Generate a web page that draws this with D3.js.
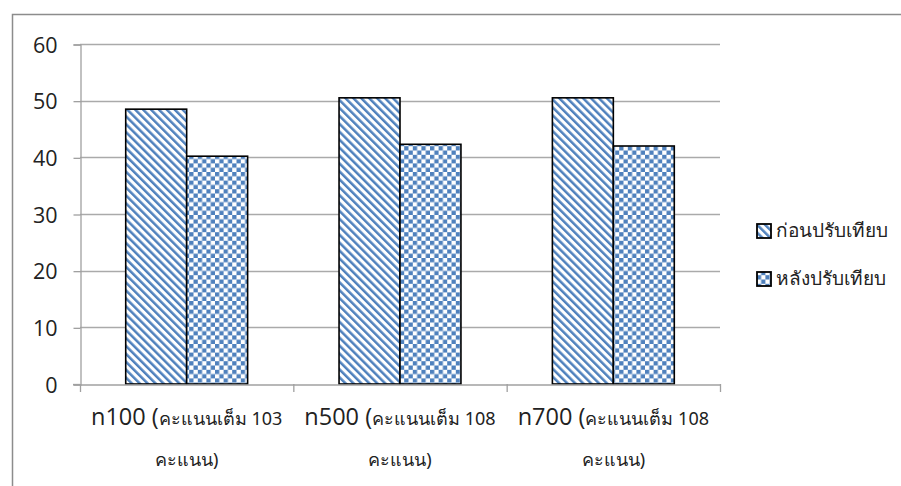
<!DOCTYPE html>
<html>
<head>
<meta charset="utf-8">
<script src="https://cdn.jsdelivr.net/npm/d3@7"></script>
<style>
  html, body { margin: 0; padding: 0; background: #fff; }
  svg { display: block; font-family: "Open Sans", "Noto Sans", sans-serif; }
</style>
</head>
<body>
<svg id="chart" width="901" height="486"></svg>
<script>
// Scores before and after calibration for each test set
const categories = ["n100", "n500", "n700"];
const categoryNotes = [["คะแนนเต็ม 103", "คะแนน)"], ["คะแนนเต็ม 108", "คะแนน)"], ["คะแนนเต็ม 108", "คะแนน)"]];
const seriesNames = ["ก่อนปรับเทียบ", "หลังปรับเทียบ"];
const beforeValues = [48.5, 50.5, 50.5];
const afterValues = [40.2, 42.3, 42.0];
const yTicks = [0, 10, 20, 30, 40, 50, 60];

const svg = d3.select("#chart");
const blue = "#4F81BD";

// Fill patterns: diagonal stripes and checkerboard
const defs = svg.append("defs");
const diag = defs.append("pattern")
  .attr("id", "diag").attr("patternUnits", "userSpaceOnUse")
  .attr("width", 5.6).attr("height", 5.6)
  .attr("patternTransform", "rotate(-45)");
diag.append("rect").attr("width", 5.6).attr("height", 5.6).attr("fill", "#fff");
diag.append("rect").attr("x", 0).attr("width", 2.5).attr("height", 5.6).attr("fill", blue);

const check = defs.append("pattern")
  .attr("id", "check").attr("patternUnits", "userSpaceOnUse")
  .attr("width", 8.6).attr("height", 8.6);
check.append("rect").attr("width", 8.6).attr("height", 8.6).attr("fill", "#fff");
check.append("rect").attr("x", 0).attr("y", 0).attr("width", 4.3).attr("height", 4.3).attr("fill", blue);
check.append("rect").attr("x", 4.3).attr("y", 4.3).attr("width", 4.3).attr("height", 4.3).attr("fill", blue);

// Chart area frame
svg.append("rect")
  .attr("x", 12.5).attr("y", 14.5).attr("width", 900).attr("height", 480)
  .attr("fill", "none").attr("stroke", "#8c8c8c").attr("stroke-width", 1.5);

const plot = { left: 80, right: 720, top: 44, bottom: 384 };

const x = d3.scaleBand().domain(categories).range([plot.left, plot.right]).paddingInner(0).paddingOuter(0);
const inner = d3.scaleBand().domain(seriesNames).range([0, x.bandwidth()]).paddingInner(0).paddingOuter(0.75);
const y = d3.scaleLinear().domain([0, 60]).range([plot.bottom, plot.top]);

// Gridlines
svg.append("g").selectAll("line").data(yTicks.filter(t => t > 0)).join("line")
  .attr("x1", plot.left).attr("x2", plot.right)
  .attr("y1", d => Math.round(y(d)) + 0.5).attr("y2", d => Math.round(y(d)) + 0.5)
  .attr("stroke", "#aaaaaa").attr("stroke-width", 1.3);

// Y axis
const yAxis = d3.axisLeft(y).tickValues(yTicks).tickSize(7).tickPadding(16);
const gy = svg.append("g").attr("transform", `translate(${plot.left + 0.5},0.5)`).call(yAxis);
gy.select(".domain").attr("stroke", "#a0a0a0").attr("stroke-width", 1.3);
gy.selectAll(".tick line").attr("stroke", "#a0a0a0").attr("stroke-width", 1.3);
gy.selectAll(".tick text").attr("font-size", 21.5).attr("fill", "#222").attr("dy", "0.36em")
  .attr("font-family", "'Open Sans', sans-serif");

// Bars
const series = [
  { name: seriesNames[0], values: beforeValues, fill: "url(#diag)" },
  { name: seriesNames[1], values: afterValues, fill: "url(#check)" }
];
const gBars = svg.append("g");
series.forEach(s => {
  gBars.selectAll(null).data(categories).join("rect")
    .attr("x", (c) => x(c) + inner(s.name))
    .attr("y", (c, i) => y(s.values[i]))
    .attr("width", inner.bandwidth())
    .attr("height", (c, i) => y(0) - y(s.values[i]))
    .attr("fill", s.fill)
    .attr("stroke", "#000").attr("stroke-width", 1.6);
});

// X axis
const xAxis = d3.axisBottom(x).tickSize(0).tickFormat("");
const gx = svg.append("g").attr("transform", `translate(0,${plot.bottom + 0.5})`).call(xAxis);
gx.select(".domain").attr("stroke", "#a0a0a0").attr("stroke-width", 1.3);
// Category separator ticks
const seps = [plot.left].concat(categories.map(c => x(c) + x.bandwidth()));
svg.append("g").selectAll("line").data(seps).join("line")
  .attr("x1", d => d + 0.5).attr("x2", d => d + 0.5)
  .attr("y1", plot.bottom).attr("y2", plot.bottom + 8)
  .attr("stroke", "#a0a0a0").attr("stroke-width", 1.3);
svg.append("line")
  .attr("x1", plot.left - 7).attr("x2", plot.left)
  .attr("y1", plot.bottom + 0.5).attr("y2", plot.bottom + 0.5)
  .attr("stroke", "#a0a0a0").attr("stroke-width", 1.3);

// Category labels (two lines)
const gl = svg.append("g");
categories.forEach((c, i) => {
  const cx = x(c) + x.bandwidth() / 2;
  const t1 = gl.append("text").attr("x", cx).attr("y", 425).attr("text-anchor", "middle").attr("fill", "#222");
  t1.append("tspan").attr("font-size", 23.5).text(c + " (");
  t1.append("tspan").attr("font-size", 18).attr("font-family", "'Noto Sans', sans-serif").text(categoryNotes[i][0]);
  gl.append("text").attr("x", cx).attr("y", 466).attr("text-anchor", "middle")
    .attr("font-size", 18).attr("font-family", "'Noto Sans', sans-serif").attr("fill", "#222").text(categoryNotes[i][1]);
});

// Legend
const legend = svg.append("g");
series.forEach((s, i) => {
  const ly = 224 + i * 48;
  legend.append("rect").attr("x", 757).attr("y", ly).attr("width", 14).attr("height", 14)
    .attr("fill", s.fill).attr("stroke", "#000").attr("stroke-width", 1.8);
  legend.append("text").attr("x", 776).attr("y", ly + 13).attr("font-size", 19)
    .attr("font-family", "'Noto Sans', sans-serif").attr("fill", "#222").text(s.name);
});
</script>
</body>
</html>
